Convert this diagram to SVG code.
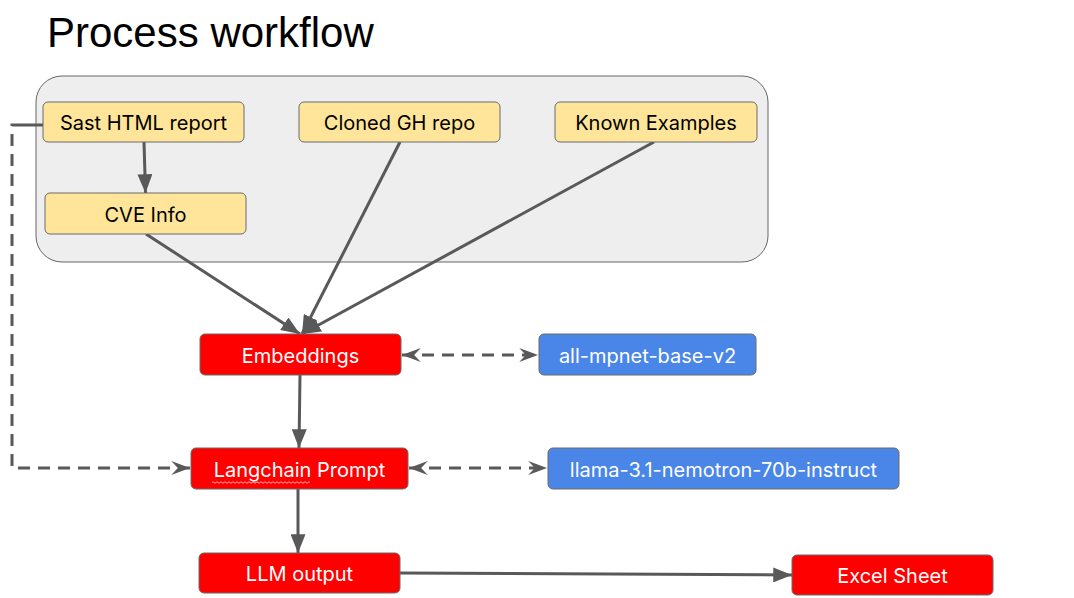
<svg xmlns="http://www.w3.org/2000/svg" width="1074" height="598" viewBox="0 0 1074 598">
<style>
.title{font-family:"Liberation Sans",Arial,sans-serif;font-size:42px;fill:#000}
.lbl{font-family:Inter,"Open Sans","Liberation Sans",sans-serif;font-size:20px;text-anchor:middle;dominant-baseline:central}
.y rect{fill:#ffe599;stroke:#6b6b6b;stroke-width:1}
.y text{fill:#000}
.r rect{fill:#ff0000;stroke:#6b6b6b;stroke-width:1}
.r text{fill:#fff}
.b rect{fill:#4a86e8;stroke:#6b6b6b;stroke-width:1}
.b text{fill:#fff}
.c{fill:none;stroke:#595959;stroke-width:3}
.d{stroke-dasharray:12 8}
.d2{stroke-dasharray:32 8 12 8 12 8 12 8 12 8 12 8 12 8 12 8 12 8 12 8 12 8 12 8 12 8 12 8 12 8 12 8 12 8 12 8 12 8 12 8 12 8 12 8 12 8 12 8 12 8 12 8 12 8 12 8 12 8 12 8 12 8 12 8 12 8 12 8}
</style>
<defs>
<marker id="ah" viewBox="0 0 10 8" refX="10" refY="4" markerWidth="6.3" markerHeight="5" orient="auto" markerUnits="strokeWidth">
<path d="M0,0 L10,4 L0,8 z" fill="#595959"/>
</marker>
<marker id="sh" viewBox="0 0 10 8" refX="10" refY="4" markerWidth="6.3" markerHeight="5" orient="auto-start-reverse" markerUnits="strokeWidth">
<path d="M0,0.3 L10,4 L0,7.7 L3.5,4 z" fill="#595959"/>
</marker>
</defs>
<rect width="1074" height="598" fill="#fff"/>
<text class="title" x="47" y="47">Process workflow</text>
<g id="group">
<rect x="36" y="76" width="732" height="186" rx="26" fill="#eeeeee" stroke="#666" stroke-width="1"/>
</g>
<g id="connectors">
<line class="c" x1="144" y1="142" x2="145.5" y2="193" marker-end="url(#ah)"/>
<line class="c" x1="146" y1="234" x2="300" y2="334" marker-end="url(#ah)"/>
<line class="c" x1="400" y1="142" x2="302" y2="334" marker-end="url(#ah)"/>
<line class="c" x1="654" y1="142" x2="302" y2="334" marker-end="url(#ah)"/>
<line class="c d" x1="402" y1="355" x2="538" y2="355" marker-start="url(#sh)" marker-end="url(#sh)"/>
<line class="c" x1="300" y1="375" x2="299" y2="448" marker-end="url(#ah)"/>
<polyline class="c d2" points="43,125 12,125 12,468 190,468" marker-end="url(#sh)"/>
<line class="c d" x1="409" y1="468" x2="547" y2="468" marker-start="url(#sh)" marker-end="url(#sh)"/>
<line class="c" x1="298" y1="489" x2="298" y2="553" marker-end="url(#ah)"/>
<line class="c" x1="400" y1="573" x2="792" y2="575" marker-end="url(#ah)"/>
</g>
<g id="sast" class="y"><rect x="43" y="102" width="201" height="40" rx="5"/><text class="lbl" x="143.5" y="123">Sast HTML report</text></g>
<g id="cloned" class="y"><rect x="299" y="102" width="201" height="40" rx="5"/><text class="lbl" x="399.5" y="123">Cloned GH repo</text></g>
<g id="known" class="y"><rect x="555" y="102" width="202" height="40" rx="5"/><text class="lbl" x="656" y="123">Known Examples</text></g>
<g id="cve" class="y"><rect x="45" y="193" width="201" height="41" rx="5"/><text class="lbl" x="145.5" y="214.5">CVE Info</text></g>
<g id="embeddings" class="r"><rect x="200" y="334" width="201" height="41" rx="5"/><text class="lbl" x="300.5" y="355.5">Embeddings</text></g>
<g id="mpnet" class="b"><rect x="539" y="334" width="217" height="41" rx="5"/><text class="lbl" x="647.5" y="355.5">all-mpnet-base-v2</text></g>
<g id="langchain" class="r"><rect x="191" y="448" width="217" height="41" rx="5"/><text class="lbl" x="299.5" y="469.5">Langchain Prompt</text>
<path d="M212,482.5 q1,-1.5 2,0 t2,0 t2,0 t2,0 t2,0 t2,0 t2,0 t2,0 t2,0 t2,0 t2,0 t2,0 t2,0 t2,0 t2,0 t2,0 t2,0 t2,0 t2,0 t2,0 t2,0 t2,0 t2,0 t2,0 t2,0 t2,0 t2,0 t2,0 t2,0 t2,0 t2,0 t2,0 t2,0 t2,0 t2,0 t2,0 t2,0 t2,0 t2,0 t2,0 t2,0 t2,0 t2,0 t2,0 t2,0 t2,0 t2,0 t2,0 t2,0" fill="none" stroke="#ffb0b0" stroke-width="1"/></g>
<g id="llama" class="b"><rect x="548" y="448" width="351" height="41" rx="5"/><text class="lbl" x="723.5" y="469.5">llama-3.1-nemotron-70b-instruct</text></g>
<g id="llm" class="r"><rect x="199" y="553" width="201" height="40" rx="5"/><text class="lbl" x="299.5" y="574">LLM output</text></g>
<g id="excel" class="r"><rect x="792" y="555" width="201" height="40" rx="5"/><text class="lbl" x="892.5" y="576">Excel Sheet</text></g>
</svg>
